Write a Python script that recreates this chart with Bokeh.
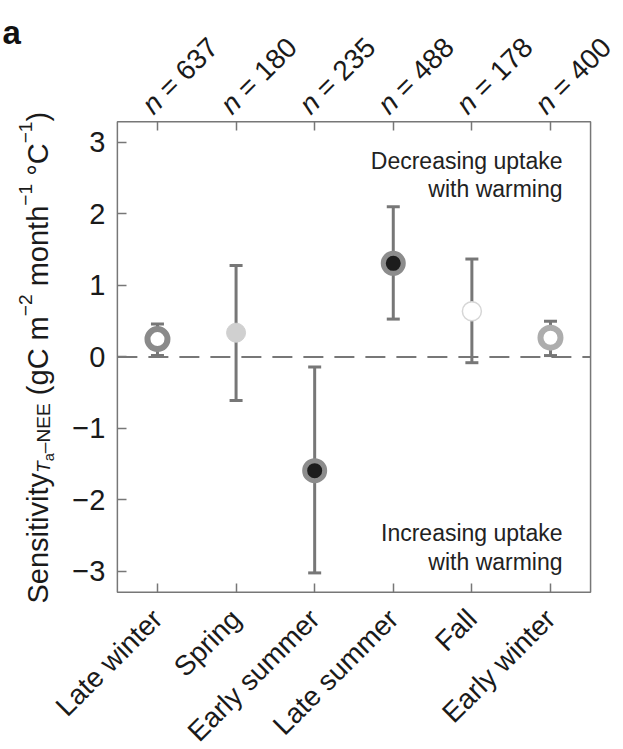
import math
from bokeh.plotting import figure
from bokeh.models import (ColumnDataSource, Whisker, TeeHead, Label, LabelSet,
                          LinearAxis, FixedTicker, Range1d, BoxAnnotation)
from bokeh.core.properties import value
from bokeh.embed import file_html
from bokeh.resources import INLINE

# ---------------- data ----------------
seasons = ["Late winter", "Spring", "Early summer", "Late summer", "Fall", "Early winter"]
n_obs = [637, 180, 235, 488, 178, 400]
sens_mean = [0.25, 0.34, -1.59, 1.31, 0.64, 0.27]
sens_upper = [0.46, 1.28, -0.14, 2.10, 1.37, 0.50]
sens_lower = [0.02, -0.61, -3.02, 0.53, -0.08, 0.02]
y_ticks = [-3, -2, -1, 0, 1, 2, 3]
y_tick_labels = ["\u22123", "\u22122", "\u22121", "0", "1", "2", "3"]

# ---------------- layout / styles ----------------
W, H = 623, 749
FONT = "Liberation Sans"
GREY = "#777777"
TXT = "#1a1a1a"
BOX_X = (0.49, 6.51)        # plot box, data units
BOX_Y = (-3.29, 3.29)
VIEW_X = (-0.997, 6.929)    # whole canvas, data units
VIEW_Y = (-5.49, 4.986)

marker_fill = ["#ffffff", "#d0d0d0", "#1c1c1c", "#1c1c1c", "#ffffff", "#ffffff"]
marker_line = ["#8a8a8a", "#d0d0d0", "#8c8c8c", "#8c8c8c", "#d6d6d6", "#adadad"]
marker_lw = [6, 1, 5, 5, 1.5, 6]
marker_size = [20, 19, 20, 20, 19, 20]

xpos = list(range(1, len(seasons) + 1))

p = figure(width=W, height=H, output_backend="svg", toolbar_location=None,
           x_range=Range1d(*VIEW_X), y_range=Range1d(*VIEW_Y),
           min_border=0, min_border_left=0, min_border_right=0,
           min_border_top=0, min_border_bottom=0)
p.title.visible = False
p.background_fill_color = "white"
p.border_fill_color = "white"
p.outline_line_color = None
p.xgrid.visible = False
p.ygrid.visible = False

def style_axis(ax):
    ax.axis_line_color = None
    ax.major_tick_in = 9
    ax.major_tick_out = 0
    ax.major_tick_line_color = GREY
    ax.major_tick_line_width = 1.5
    ax.minor_tick_line_color = None

# bottom axis (category labels)
xa = p.xaxis[0]
xa.fixed_location = BOX_Y[0]
xa.ticker = FixedTicker(ticks=xpos)
xa.major_label_overrides = {x: s for x, s in zip(xpos, seasons)}
xa.major_label_orientation = math.pi / 4
xa.major_label_text_font = FONT
xa.major_label_text_font_size = "28px"
xa.major_label_text_color = TXT
xa.major_label_standoff = 22
style_axis(xa)

# left axis
ya = p.yaxis[0]
ya.fixed_location = BOX_X[0]
ya.ticker = FixedTicker(ticks=y_ticks)
ya.major_label_overrides = {t: s for t, s in zip(y_ticks, y_tick_labels)}
ya.major_label_text_font = FONT
ya.major_label_text_font_size = "29px"
ya.major_label_text_color = TXT
ya.major_label_standoff = 12
style_axis(ya)

# top axis: ticks only
top_axis = LinearAxis(ticker=FixedTicker(ticks=xpos), fixed_location=BOX_Y[1])
top_axis.major_label_overrides = {x: "" for x in xpos}
top_axis.major_label_text_font_size = "1px"
style_axis(top_axis)
p.add_layout(top_axis, "above")

# plot box
p.add_layout(BoxAnnotation(left=BOX_X[0], right=BOX_X[1], bottom=BOX_Y[0], top=BOX_Y[1],
                           fill_alpha=0, line_color=GREY, line_alpha=1.0, line_width=1.5,
                           level="underlay"))

# zero line
p.segment(x0=[BOX_X[0]], x1=[BOX_X[1]], y0=[0], y1=[0], line_color=GREY, line_width=2,
          line_dash="20 11", level="underlay")

src = ColumnDataSource(dict(x=xpos, mean=sens_mean, upper=sens_upper, lower=sens_lower,
                            fill=marker_fill, line=marker_line, lw=marker_lw, size=marker_size))

p.add_layout(Whisker(source=src, base="x", upper="upper", lower="lower",
                     line_color=GREY, line_width=3, level="underlay",
                     upper_head=TeeHead(size=13, line_color=GREY, line_width=3),
                     lower_head=TeeHead(size=13, line_color=GREY, line_width=3)))

p.scatter("x", "mean", source=src, size="size", fill_color="fill", line_color="line",
          line_width="lw", marker="circle")

# n labels (top, rotated 45 degrees)
ang = math.pi / 4
N_FS = 28
n_src = ColumnDataSource(dict(x=xpos, y=[BOX_Y[1]] * len(xpos),
                              eq=["= %d" % n for n in n_obs], nn=["n"] * len(xpos)))
step = (0.556 + 0.278) * N_FS * math.cos(ang)
p.add_layout(LabelSet(source=n_src, x="x", y="y", text="nn", angle=ang,
                      x_offset=-4, y_offset=6, text_font=value(FONT), text_font_style="italic",
                      text_font_size="%dpx" % N_FS, text_color=TXT,
                      text_align="left", text_baseline="alphabetic"))
p.add_layout(LabelSet(source=n_src, x="x", y="y", text="eq", angle=ang,
                      x_offset=-4 + step, y_offset=6 + step, text_font=value(FONT),
                      text_font_size="%dpx" % N_FS, text_color=TXT,
                      text_align="left", text_baseline="alphabetic"))

# annotations inside the box
def note(text, yoff):
    p.add_layout(Label(x=BOX_X[1], y=BOX_Y[1] if yoff < 0 else BOX_Y[0], x_offset=-28,
                       y_offset=yoff, text=text, text_font=FONT, text_font_size="23px",
                       text_color="#222222", text_align="right", text_baseline="alphabetic"))

note("Decreasing uptake", -39)
note("with warming", -67)
note("Increasing uptake", 59)
note("with warming", 30)

# panel letter (screen units: frame == canvas)
p.add_layout(Label(x=2, y=H - 32, x_units="screen", y_units="screen", text="a",
                   text_font=FONT, text_font_size="33px", text_font_style="bold",
                   text_color="#111111", text_align="left", text_baseline="alphabetic"))

# y axis title, composed of pieces (rotated, reading bottom to top)
CW = {"S": .667, "e": .556, "n": .556, "s": .5, "i": .222, "t": .278, "v": .5, "y": .5,
      "T": .611, "a": .556, "\u2013": .556, "N": .722, "E": .667, " ": .278, "(": .333,
      "g": .556, "C": .722, "m": .833, "\u2212": .584, "2": .556, "1": .556, "o": .556,
      "h": .556, "\u00b0": .4, ")": .333}
F = 29
FS = 0.66 * F
FSS = 0.5 * F
BASE_X = 37
title_pieces = [  # text, font size, baseline shift (px, + = lower), style, trailing space
    ("Sensitivity", F, 0, "normal", 0),
    ("T", FS, 0.22 * F, "italic", 0),
    ("a", FSS, 0.38 * F, "normal", 0),
    ("\u2013NEE", FS, 0.22 * F, "normal", 1),
    ("(gC", F, 0, "normal", 1),
    ("m", F, 0, "normal", 0),
    ("\u22122", FS, -0.4 * F, "normal", 1),
    ("month", F, 0, "normal", 0),
    ("\u22121", FS, -0.4 * F, "normal", 1),
    ("\u00b0C", F, 0, "normal", 0),
    ("\u22121", FS, -0.4 * F, "normal", 0),
    (")", F, 0, "normal", 0),
]
pos = 603.0
for text, size, shift, style, space in title_pieces:
    p.add_layout(Label(x=BASE_X + shift, y=H - pos, x_units="screen", y_units="screen",
                       text=text, angle=math.pi / 2, text_font=FONT,
                       text_font_size="%.1fpx" % size, text_font_style=style,
                       text_color=TXT, text_align="left", text_baseline="alphabetic"))
    pos -= sum(CW.get(c, 0.55) for c in text) * size
    if space:
        pos -= CW[" "] * F

open("out.html", "w").write(file_html(p, INLINE))
